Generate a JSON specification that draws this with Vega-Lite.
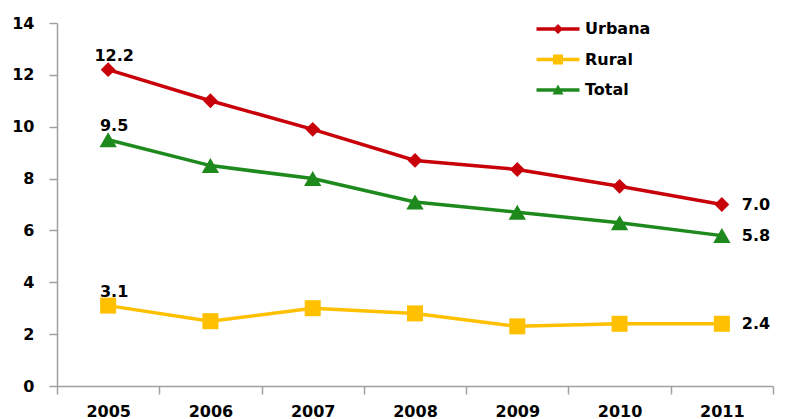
{
  "$schema": "https://vega.github.io/schema/vega-lite/v6.json",
  "width": 716,
  "height": 363,
  "autosize": "none",
  "padding": {"left": 57, "top": 23, "right": 19, "bottom": 33},
  "background": "white",
  "config": {"view": {"stroke": null}, "font": "DejaVu Sans"},
  "data": {
    "values": [
      {"year": "2005", "serie": "Urbana", "value": 12.2},
      {"year": "2006", "serie": "Urbana", "value": 11.0},
      {"year": "2007", "serie": "Urbana", "value": 9.9},
      {"year": "2008", "serie": "Urbana", "value": 8.7},
      {"year": "2009", "serie": "Urbana", "value": 8.35},
      {"year": "2010", "serie": "Urbana", "value": 7.7},
      {"year": "2011", "serie": "Urbana", "value": 7.0},
      {"year": "2005", "serie": "Rural", "value": 3.1},
      {"year": "2006", "serie": "Rural", "value": 2.5},
      {"year": "2007", "serie": "Rural", "value": 3.0},
      {"year": "2008", "serie": "Rural", "value": 2.8},
      {"year": "2009", "serie": "Rural", "value": 2.3},
      {"year": "2010", "serie": "Rural", "value": 2.4},
      {"year": "2011", "serie": "Rural", "value": 2.4},
      {"year": "2005", "serie": "Total", "value": 9.5},
      {"year": "2006", "serie": "Total", "value": 8.5},
      {"year": "2007", "serie": "Total", "value": 8.0},
      {"year": "2008", "serie": "Total", "value": 7.1},
      {"year": "2009", "serie": "Total", "value": 6.7},
      {"year": "2010", "serie": "Total", "value": 6.3},
      {"year": "2011", "serie": "Total", "value": 5.8}
    ]
  },
  "encoding": {
    "x": {
      "field": "year",
      "type": "ordinal",
      "bandPosition": 0.5,
      "scale": {"type": "band", "paddingInner": 0, "paddingOuter": 0},
      "axis": {
        "title": null,
        "labelAngle": 0,
        "tickBand": "extent",
        "domainColor": "#A0A0A0",
        "tickColor": "#A0A0A0",
        "domainWidth": 1.5,
        "tickWidth": 1.5,
        "tickSize": 8,
        "labelPadding": 9,
        "labelFontSize": 16,
        "labelFontWeight": "bold",
        "labelColor": "black",
        "grid": false
      }
    },
    "y": {
      "field": "value",
      "type": "quantitative",
      "scale": {"domain": [0, 14]},
      "axis": {
        "title": null,
        "values": [0, 2, 4, 6, 8, 10, 12, 14],
        "grid": false,
        "domainColor": "#A0A0A0",
        "tickColor": "#A0A0A0",
        "domainWidth": 1.5,
        "tickWidth": 1.5,
        "tickSize": 8,
        "labelPadding": 15,
        "labelFontSize": 16,
        "labelFontWeight": "bold",
        "labelColor": "black"
      }
    },
    "color": {
      "field": "serie",
      "type": "nominal",
      "scale": {"domain": ["Urbana", "Rural", "Total"], "range": ["#C8000A", "#FFC000", "#1E8A1E"]},
      "legend": {
        "title": null,
        "orient": "none",
        "legendX": 491,
        "legendY": -4,
        "padding": 0,
        "symbolSize": 400,
        "labelOffset": 17,
        "rowPadding": 12.5,
        "labelFontSize": 16,
        "labelFontWeight": "bold",
        "labelColor": "black",
        "symbolStrokeWidth": 0,
        "symbolOpacity": 1
      }
    }
  },
  "layer": [
    {"mark": {"type": "line", "strokeWidth": 3.5}},
    {
      "transform": [{"filter": "false"}],
      "mark": {"type": "point", "filled": true, "opacity": 1},
      "encoding": {
        "shape": {
          "field": "serie",
          "type": "nominal",
          "scale": {
            "domain": ["Urbana", "Rural", "Total"],
            "range": [
              "M-2.15,-0.17H2.15V0.17H-2.15Z M0,-0.5L0.5,0L0,0.5L-0.5,0Z",
              "M-2.15,-0.17H2.15V0.17H-2.15Z M-0.5,-0.5H0.5V0.5H-0.5Z",
              "M-2.15,-0.17H2.15V0.17H-2.15Z M0,-0.55L0.55,0.45H-0.55Z"
            ]
          }
        }
      }
    },
    {
      "transform": [{"filter": "datum.serie === 'Urbana'"}],
      "mark": {"type": "point", "filled": true, "opacity": 1, "shape": "diamond", "size": 220}
    },
    {
      "transform": [{"filter": "datum.serie === 'Rural'"}],
      "mark": {"type": "point", "filled": true, "opacity": 1, "shape": "square", "size": 256}
    },
    {
      "transform": [{"filter": "datum.serie === 'Total'"}],
      "mark": {"type": "point", "filled": true, "opacity": 1, "shape": "triangle-up", "size": 300}
    },
    {
      "transform": [{"filter": "datum.year === '2005'"}],
      "mark": {"type": "text", "baseline": "alphabetic", "dy": -9, "dx": 6, "fontSize": 16, "fontWeight": "bold"},
      "encoding": {
        "text": {"field": "value", "type": "quantitative", "format": ".1f"},
        "color": {"value": "black"}
      }
    },
    {
      "transform": [{"filter": "datum.year === '2011'"}],
      "mark": {"type": "text", "align": "left", "baseline": "middle", "dx": 20, "fontSize": 16, "fontWeight": "bold"},
      "encoding": {
        "text": {"field": "value", "type": "quantitative", "format": ".1f"},
        "color": {"value": "black"}
      }
    }
  ]
}
